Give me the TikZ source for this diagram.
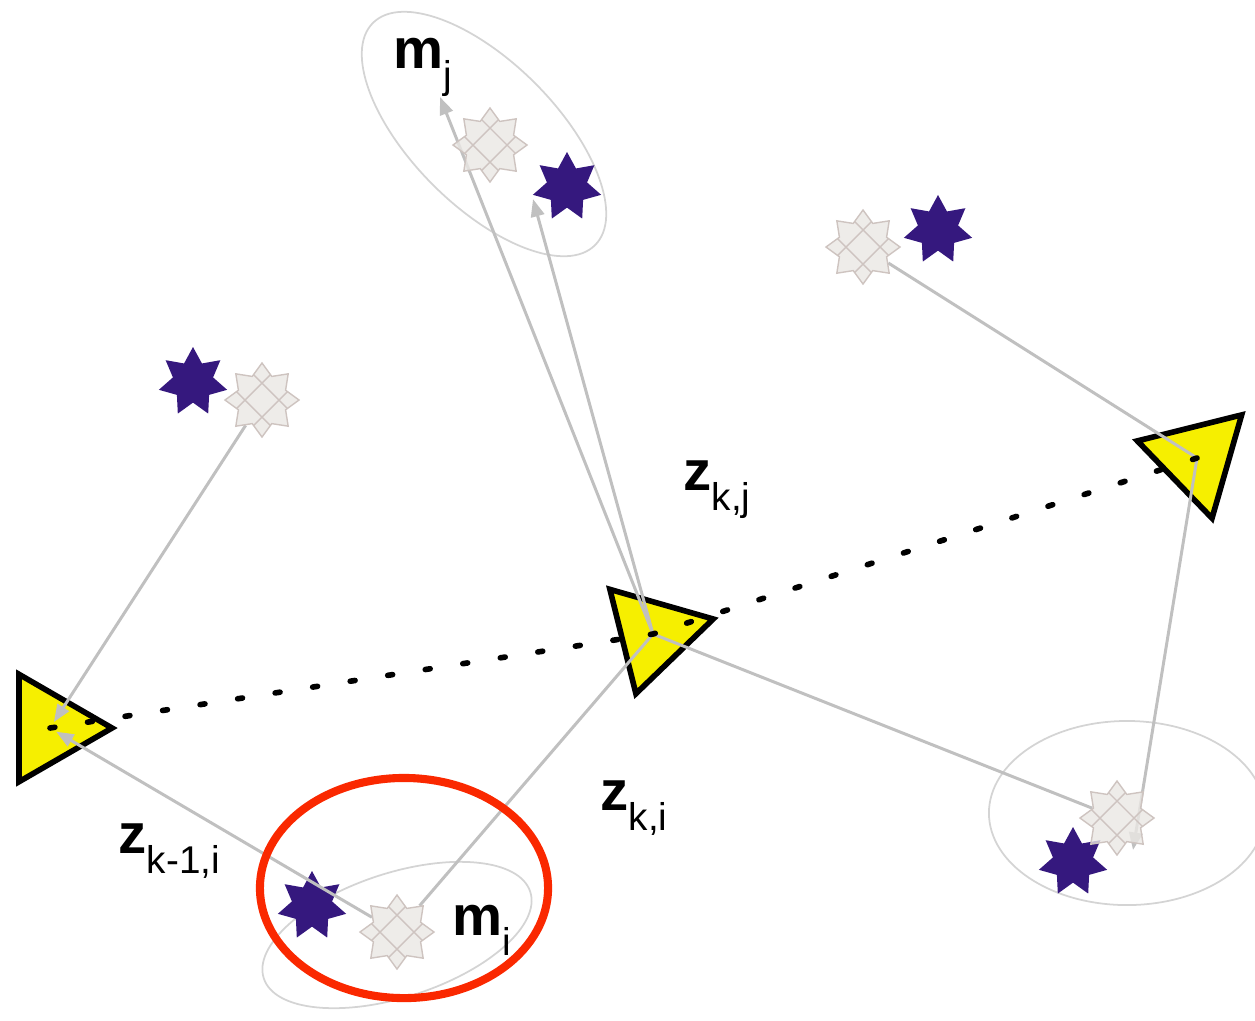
\documentclass[tikz,border=0pt]{standalone}
\usepackage{fontspec}
\setmainfont{Liberation Sans}
\usepackage{tikz}
\usetikzlibrary{positioning,arrows.meta}
\usetikzlibrary{shapes.geometric}

\pgfdeclarelayer{sotto}
\pgfsetlayers{sotto,main}

\definecolor{posa}{RGB}{246,239,0}
\definecolor{viola}{RGB}{53,24,126}
\definecolor{chiaro}{RGB}{234,231,228}
\definecolor{bordochiaro}{RGB}{206,196,192}
\definecolor{grigio}{RGB}{192,192,192}
\definecolor{grigioell}{RGB}{212,212,212}
\definecolor{rosso}{RGB}{250,40,0}

% etichetta: lettera in grassetto con pedice
\newcommand{\etich}[2]{{\fontsize{16}{16}\selectfont\bfseries #1}\raisebox{-5.8pt}{\fontsize{11}{11}\selectfont #2}}

\begin{document}
\begin{tikzpicture}[x=0.01cm, y=-0.01cm,
    robot/.style={regular polygon, regular polygon sides=3, minimum size=1.24cm,
        inner sep=0pt, fill=posa, draw=black, line width=1.6pt},
    reale/.style={star, star points=7, star point ratio=1.7, minimum size=0.7cm,
        inner sep=0pt, fill=viola},
    stima/.style={star, star points=8, star point ratio=1.45, minimum size=0.74cm,
        inner sep=0pt, fill=chiaro, fill opacity=0.8, draw=bordochiaro, line width=0.4pt,
        path picture={
            \draw[bordochiaro, line width=0.4pt]
                ([shift={(0.269cm,0.439cm)}]path picture bounding box.center) --
                ([shift={(-0.439cm,-0.269cm)}]path picture bounding box.center)
                ([shift={(0.439cm,0.269cm)}]path picture bounding box.center) --
                ([shift={(-0.269cm,-0.439cm)}]path picture bounding box.center)
                ([shift={(-0.269cm,0.439cm)}]path picture bounding box.center) --
                ([shift={(0.439cm,-0.269cm)}]path picture bounding box.center)
                ([shift={(-0.439cm,0.269cm)}]path picture bounding box.center) --
                ([shift={(0.269cm,-0.439cm)}]path picture bounding box.center);
        }},
    misura/.style={draw=grigio, line width=0.85pt},
    freccia/.style={misura, -{Triangle[length=5pt, width=3.8pt]}},
    incertezza/.style={draw=grigioell, line width=0.5pt},
    traiettoria/.style={line width=1.6pt, line cap=round, dash pattern=on 1.4pt off 9.4pt},
    etichetta/.style={anchor=base west, inner sep=0pt}]

    \useasboundingbox (0,0) rectangle (1255,1020);
    \clip (0,0) rectangle (1255,1020);

    \begin{pgfonlayer}{sotto}
    % Ellissi di incertezza dei landmark
    \draw[incertezza, rotate around={-45:(484,134)}] (484,134) ellipse [x radius=1.57cm, y radius=0.72cm];
    \draw[incertezza, rotate around={18:(397,935)}] (397,935) ellipse [x radius=1.4cm, y radius=0.62cm];
    \draw[incertezza] (1127,813) ellipse [x radius=1.38cm, y radius=0.92cm];

    % Pose del robot
    \node[robot, rotate=-90] (p1) at (50,728) {};
    \node[robot, rotate=-76] (p2) at (653,634) {};
    \node[robot, rotate=-46] (p3) at (1197,458) {};

    % Landmark reali
    \node[reale] (rl) at (193,382) {};
    \node[reale] (rj) at (567,187) {};
    \node[reale] (rr) at (938,230) {};
    \node[reale] (ri) at (312,906) {};
    \node[reale] (rq) at (1073,862) {};
    \end{pgfonlayer}

    % Landmark stimati
    \node[stima] (sl) at (262,400) {};
    \node[stima] (sj) at (490,145) {};
    \node[stima] (sr) at (863,247) {};
    \node[stima] (si) at (397,932) {};
    \node[stima] (sq) at (1117,818) {};

    % Punte libere delle misure
    \coordinate (tj) at (440,97);
    \coordinate (tk) at (533,199);
    \coordinate (tq) at (1133,850);

    % Misure
    \begin{pgfonlayer}{sotto}
    \draw[freccia, shorten >=2pt] (sl) -- (p1.center);
    \draw[freccia, shorten >=2pt] (si) -- (p1.center);
    \draw[freccia] (p2.center) -- (tj);
    \draw[freccia] (p2.center) -- (tk);
    \draw[misura] (p2.center) -- (si);
    \draw[misura] (p2.center) -- (sq);
    \draw[misura] (p3.center) -- (sr);
    \draw[freccia] (p3.center) -- (tq);
    \end{pgfonlayer}

    % Traiettoria
    \draw[traiettoria] (p1.center) -- (p2.center) -- (p3.center);

    % Evidenziazione
    \draw[rosso, line width=2.3pt] (404,888) ellipse [x radius=1.44cm, y radius=1.1cm];

    % Etichette
    \node[etichetta] (lmj) at (393,68) {\etich{m}{j}};
    \node[etichetta] (lzkj) at (683,490) {\etich{z}{k,j}};
    \node[etichetta] (lzki) at (600,810) {\etich{z}{k,i}};
    \node[etichetta] (lzpi) at (118,853) {\etich{z}{k-1,i}};
    \node[etichetta] (lmi) at (452,935) {\etich{m}{i}};

\end{tikzpicture}
\end{document}
